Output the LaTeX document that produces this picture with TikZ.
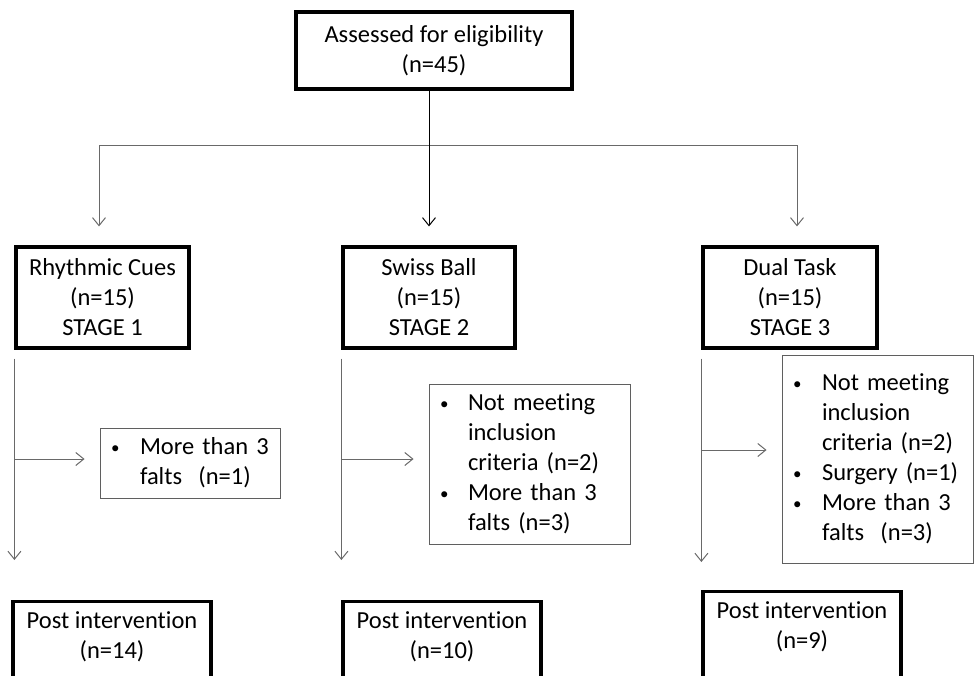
\documentclass[tikz,border=0pt]{standalone}
\usepackage{fontspec}
\setmainfont{Carlito}[Ligatures=NoCommon]
\usetikzlibrary{arrows.meta}
\definecolor{linegray}{RGB}{105,105,105}
\definecolor{boxgray}{RGB}{95,95,95}
\tikzset{
  thickbox/.style={draw=black, line width=3.2pt, align=center, inner sep=0pt},
  exclbox/.style={draw=boxgray, line width=0.9pt, align=left, inner xsep=11pt, inner ysep=0pt},
  conn/.style={draw=linegray, line width=1pt},
  arr/.style={conn, -{Straight Barb[length=8pt,width=13pt]}},
}
\newcommand{\bul}{\raisebox{1pt}{\fontsize{17}{17}\selectfont\textbullet}}

\begin{document}
\begin{tikzpicture}[x=1pt,y=-1pt,font=\fontsize{24.5}{30}\selectfont]
\useasboundingbox (0,0) rectangle (974,675);
\clip (0,0) rectangle (974,675);
% boxes
\node[thickbox, minimum width=276pt, minimum height=77pt] (assessed) at (434,50.5) {Assessed for eligibility\\(n=45)};
\node[thickbox, minimum width=173pt, minimum height=101pt] (rhythm) at (102.5,297.5) {Rhythmic Cues\\(n=15)\\STAGE 1};
\node[thickbox, minimum width=172pt, minimum height=101pt] (swiss) at (429,297.5) {Swiss Ball\\(n=15)\\STAGE 2};
\node[thickbox, minimum width=174pt, minimum height=101pt] (dual) at (790,297.5) {Dual Task\\(n=15)\\STAGE 3};
\node[exclbox, text width=158pt, minimum height=70pt] (excl1) at (190,463) {\begin{tabular}{@{}p{29pt}@{}l@{}}\bul & More than 3\\ & falts~ (n=1)\end{tabular}};
\node[exclbox, text width=179pt, minimum height=160pt] (excl2) at (529.5,464) {\begin{tabular}{@{}p{28pt}@{}l@{}}\bul & Not meeting\\ & inclusion\\ & criteria (n=2)\\\bul & More than 3\\ & falts (n=3)\end{tabular}};
\node[exclbox, text width=169pt, minimum height=208pt] (excl3) at (877.5,459) {\begin{tabular}{@{}p{29pt}@{}l@{}}\bul & Not meeting\\ & inclusion\\ & criteria (n=2)\\\bul & Surgery (n=1)\\\bul & More than 3\\ & falts~ (n=3)\end{tabular}};
\node[thickbox, minimum width=198pt, anchor=north, inner ysep=10pt] (post1) at (112,600) {Post intervention\\(n=14)\rule[-40pt]{0pt}{40pt}};
\node[thickbox, minimum width=198pt, anchor=north, inner ysep=10pt] (post2) at (442,600) {Post intervention\\(n=10)\rule[-40pt]{0pt}{40pt}};
\node[thickbox, minimum width=198pt, anchor=north, inner ysep=10pt] (post3) at (802,590) {Post intervention\\(n=9)\rule[-40pt]{0pt}{40pt}};
% split
\coordinate (hl) at (99,145);
\coordinate (hr) at (797,145);
\draw[conn] (hl) -- (hr);
\draw[arr, draw=black, shorten >=19pt] (swiss.north |- assessed.south) -- (swiss.north);
\draw[arr, shorten >=19pt] (hl) -- (hl |- rhythm.north);
\draw[arr, shorten >=19pt] (hr) -- (hr |- dual.north);
% stages
\foreach \s/\e/\p/\g/\b in {rhythm/excl1/post1/40/4, swiss/excl2/post2/40/5, dual/excl3/post3/28/9} {
  \draw[arr, shorten <=9pt, shorten >=\g pt] (\s.south west) -- (\s.south west |- \p.north);
  \draw[arr, shorten >=15pt] ([yshift=\b pt]\s.south west |- \e.west) -- ([yshift=\b pt]\e.west);
}
\end{tikzpicture}
\end{document}
